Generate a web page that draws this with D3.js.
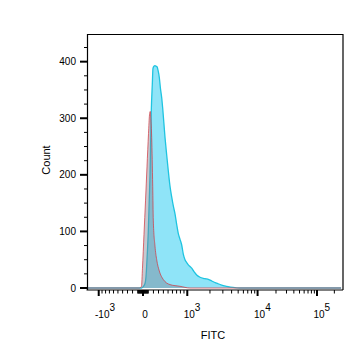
<!DOCTYPE html>
<html><head><meta charset="utf-8">
<script src="https://cdn.jsdelivr.net/npm/d3@7"></script>
<style>body{margin:0;background:#fff}svg{display:block;font-family:"Liberation Sans",Arial,sans-serif}</style>
</head><body><svg id="c" width="364" height="359"></svg>
<script>
// ---- data (FITC value, count) ----
const stainedFITC  = [-2000,-29,0,38,57,76,101,134,159,178,191,211,230,250,270,290,316,340,365,385,434,470,505,543,582,620,661,703,744,789,835,880,930,982,1033,1089,1147,1231,1336,1477,1632,1810,2002,2217,2466,2891,3400,4193,5327,262144];
const stainedCount = [0,0,2,8,20,50,100,200,315,360,388,392,393,392,391,385,372,352,336,318,266,235,207,180,161,145,131,112,96,86,76,60,50,45,41,38,35,29,23,19,17,16,14,11,8.5,5,3,1,0,0];
const isoFITC  = [-2000,-67,-29,-10,19,48,76,105,124,139,149,166,186,197,230,264,316,398,543,789,1089,262144];
const isoCount = [0,0,3,35,95,154,214,273,306,312,300,266,179,120,74,50,30,15,6,3,0,0];
const yTicks = [0,100,200,300,400];
const yMinor = [25,50,75,125,150,175,225,250,275,325,350,375,425];
const xMajor = [-1000,0,1000,10000,100000];
const xLabels = [["-10","3"],["0",""],["10","3"],["10","4"],["10","5"]];
const xMinor = [-900,-800,-700,-600,-500,-400,-300,-200,-100,-90,-80,-70,-60,-50,-40,-30,-20,-10,
  10,20,30,40,50,60,70,80,90,100,200,300,400,500,600,700,800,900,
  2000,3000,4000,5000,6000,7000,8000,9000,20000,30000,40000,50000,60000,70000,80000,90000,200000];

// ---- logicle transform ----
const T=262144, M=4.5, W=1.03;
const wN=W*Math.LN10, mN=M*Math.LN10;
let lo=1.0001, hi=100;
for(let i=0;i<200;i++){const p=(lo+hi)/2; const v=2*p*Math.log(p)/(p+1); if(v>wN)hi=p; else lo=p;}
const P=(lo+hi)/2, aC=T*Math.exp(-(mN-wN));
function Sinv(x){ if(x<wN) return -Sinv(2*wN-x); const u=x-wN; return aC*(Math.exp(u)-P*P*Math.exp(-u/P)+P*P-1); }
function logicle(v){ let a=-mN, b=mN*1.2; for(let i=0;i<80;i++){const c=(a+b)/2; if(Sinv(c)<v)a=c; else b=c;} return (a+b)/2; }

const L=87.5, R=343, Tp=34.5, B=290;
const xs = d3.scaleLinear().domain([logicle(0), logicle(1e5)]).range([143,317]);
const X = v => xs(logicle(v));
const Y = d3.scaleLinear().domain([0,448]).range([288,Tp]);

const svg=d3.select("#c");
svg.append("defs").append("clipPath").attr("id","cp").append("rect")
  .attr("x",L).attr("y",Tp).attr("width",R-L).attr("height",B-Tp);

const area=d3.area().x(d=>X(d[0])).y0(Y(0)).y1(d=>Y(d[1])).curve(d3.curveMonotoneX);
const line=d3.line().x(d=>X(d[0])).y(d=>Y(d[1])).curve(d3.curveMonotoneX);
const g=svg.append("g").attr("clip-path","url(#cp)");
const st=d3.zip(stainedFITC,stainedCount), iso=d3.zip(isoFITC,isoCount);
g.append("path").attr("d",area(st)).attr("fill","#8fe4f8");
g.append("path").attr("d",line(st)).attr("fill","none").attr("stroke","#1fc4e0").attr("stroke-width",1.3);
g.append("path").attr("d",area(iso)).attr("fill","rgba(120,126,142,0.42)");
g.append("path").attr("d",line(iso)).attr("fill","none").attr("stroke","rgba(210,60,70,0.75)").attr("stroke-width",1);

// frame
svg.append("path").attr("d",`M${L},${B}V${Tp}H${R}V${B}`).attr("fill","none").attr("stroke","#000").attr("stroke-width",1.2);
svg.append("line").attr("x1",L-1).attr("x2",R).attr("y1",B).attr("y2",B).attr("stroke","#000").attr("stroke-width",1.2);

// y axis
svg.selectAll(".ym").data(yTicks).join("line").attr("x1",80).attr("x2",L).attr("y1",d=>Y(d)).attr("y2",d=>Y(d)).attr("stroke","#000").attr("stroke-width",2);
svg.selectAll(".yn").data(yMinor).join("line").attr("x1",84).attr("x2",L).attr("y1",d=>Y(d)).attr("y2",d=>Y(d)).attr("stroke","#000").attr("stroke-width",1);
svg.selectAll(".yl").data(yTicks).join("text").attr("x",76).attr("y",d=>Y(d)).attr("dy","0.35em").attr("text-anchor","end").attr("font-size",10).text(d=>d);

// x axis
svg.selectAll(".xm").data(xMajor).join("line").attr("x1",d=>X(d)).attr("x2",d=>X(d)).attr("y1",B).attr("y2",B+6).attr("stroke","#000").attr("stroke-width",2);
svg.selectAll(".xn").data(xMinor).join("line").attr("x1",d=>X(d)).attr("x2",d=>X(d)).attr("y1",B).attr("y2",B+3.5).attr("stroke","#000").attr("stroke-width",1);
xMajor.forEach((v,i)=>{
  const t=svg.append("text").attr("font-size",10).attr("y",318);
  const b=t.append("tspan").text(xLabels[i][0]);
  if(xLabels[i][1]) t.append("tspan").attr("dy",-7).text(xLabels[i][1]);
  const bw=b.node().getComputedTextLength();
  const off = xLabels[i][0].startsWith("-") ? 3.5 : 2;
  t.attr("x",X(v)-bw/2+off);
});

svg.append("text").attr("x",213).attr("y",339).attr("text-anchor","middle").attr("font-size",11).text("FITC");
svg.append("text").attr("transform","translate(50,160) rotate(-90)").attr("text-anchor","middle").attr("font-size",11).text("Count");
</script></body></html>
